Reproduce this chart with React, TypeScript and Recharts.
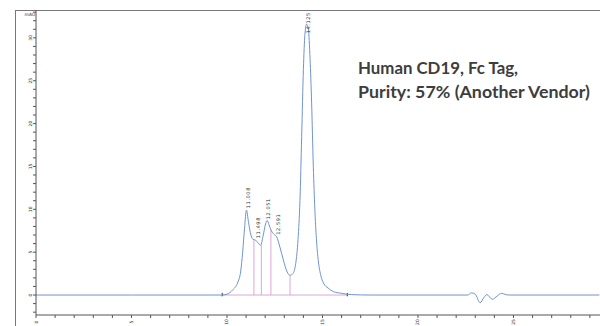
import React from "react";
import {
  ComposedChart,
  Line,
  Scatter,
  XAxis,
  YAxis,
  ReferenceLine,
} from "recharts";

// chromatogram trace (min, mAU)
const TIME = [
  0, 5, 9.7, 10.0, 10.3, 10.55, 10.72, 10.82, 10.92, 11.02, 11.12, 11.22, 11.36, 11.5, 11.62,
  11.76, 11.9, 12.02, 12.1, 12.2, 12.3, 12.45, 12.6, 12.77, 12.95, 13.15, 13.3, 13.45, 13.6,
  13.72, 13.82, 13.91, 14.0, 14.08, 14.17, 14.26, 14.35, 14.43, 14.52, 14.6, 14.68, 14.78,
  14.9, 15.05, 15.3, 15.57, 16.0, 16.5, 17.5, 22.6, 22.8, 23.0, 23.25, 23.45, 23.6, 23.9,
  24.15, 24.38, 24.6, 24.8, 29.5,
];
const ABS = [
  0, 0, 0, 0.1, 0.6, 1.4, 2.8, 5.0, 7.8, 9.9, 8.6, 7.3, 6.5, 6.4, 6.1,
  5.8, 7.0, 8.3, 8.7, 8.2, 7.6, 7.1, 6.8, 5.6, 4.1, 2.7, 2.3, 2.5, 3.7,
  6.5, 11.0, 18.5, 26.3, 30.4, 31.6, 31.0, 27.5, 22.5, 15.0, 10.0, 6.6, 4.0,
  2.4, 1.4, 0.8, 0.4, 0.2, 0.05, 0, 0, 0.25, 0.1, -0.9, -0.3, 0.05, -0.5,
  -0.1, 0.2, 0.05, 0, 0,
];

// peak apex labels
const PEAK_RT = ["11.008", "11.498", "12.051", "12.591", "14.125"];
const PEAK_H = [9.9, 6.4, 8.6, 6.8, 30.3];

// integration drop lines
const DROP_T = [11.41, 11.8, 12.3, 13.3];
const DROP_V = [6.4, 5.8, 7.6, 2.3];
const BASE_START = 9.75;
const BASE_END = 16.3;

const X_TICKS = Array.from({ length: 30 }, (_, i) => i);
const Y_TICKS = Array.from({ length: 36 }, (_, i) => i - 2);

const curve = TIME.map((t, i) => ({ t, v: ABS[i] }));
const peaks = PEAK_RT.map((name, i) => ({ t: parseFloat(name), v: PEAK_H[i], name }));

const AXIS = "#555";
const TRACE = "#6f93d2";
const PINK = "#dba6d8";

const XTick = (props: any) => {
  const { x, y, payload } = props;
  if (payload.value % 5 !== 0) return null;
  const px = x + 1.5;
  const py = y + 4;
  return (
    <text x={px} y={py} fontSize={4.5} fill="#333" textAnchor="middle" fontFamily="DejaVu Sans"
      transform={`rotate(-90, ${px}, ${py})`}>
      {payload.value}
    </text>
  );
};

const YTick = (props: any) => {
  const { x, y, payload } = props;
  if (payload.value % 5 !== 0) return null;
  return (
    <text x={x} y={y} fontSize={4.5} fill="#333" textAnchor="middle" fontFamily="DejaVu Sans"
      transform={`rotate(-90, ${x}, ${y})`}>
      {payload.value}
    </text>
  );
};

const PeakLabel = (props: any) => {
  const { cx, cy, payload } = props;
  const px = cx + 4;
  const py = cy - 2;
  return (
    <text x={px} y={py} fontSize={5} fill="#333" letterSpacing={0.6} fontFamily="DejaVu Sans"
      transform={`rotate(-90, ${px}, ${py})`}>
      {payload.name}
    </text>
  );
};

export default function App() {
  return (
    <div style={{ position: "absolute", left: 0, top: 0, width: 600, height: 326, background: "#fff", overflow: "hidden" }}>
      <div style={{ position: "absolute", left: 15, top: 10, width: 600, height: 330, borderLeft: "1px solid #777", borderTop: "1px solid #777" }} />
      <ComposedChart width={600} height={326} margin={{ top: 10, right: 0, bottom: 0, left: 0 }} style={{ overflow: "visible" }}>
        <XAxis
          type="number"
          dataKey="t"
          domain={[0, 29.53]}
          ticks={X_TICKS}
          interval={0}
          height={11}
          tickSize={3}
          tickMargin={0}
          stroke={AXIS}
          tick={<XTick />}
        />
        <YAxis
          type="number"
          dataKey="v"
          domain={[-2.33, 33.25]}
          ticks={Y_TICKS}
          interval={0}
          width={36}
          tickSize={3}
          tickMargin={1}
          stroke={AXIS}
          tick={<YTick />}
        />
        <ReferenceLine segment={[{ x: BASE_START, y: 0 }, { x: BASE_END, y: 0 }]} stroke={PINK} strokeWidth={1} />
        {DROP_T.map((t, i) => (
          <ReferenceLine key={t} segment={[{ x: t, y: 0 }, { x: t, y: DROP_V[i] }]} stroke={PINK} strokeWidth={1} />
        ))}
        <ReferenceLine segment={[{ x: BASE_START, y: -0.15 }, { x: BASE_START, y: 0.25 }]} stroke="#333" strokeWidth={1} />
        <ReferenceLine segment={[{ x: BASE_END, y: -0.15 }, { x: BASE_END, y: 0.25 }]} stroke="#333" strokeWidth={1} />
        <Line
          data={curve}
          dataKey="v"
          type="monotone"
          stroke={TRACE}
          strokeWidth={1}
          dot={false}
          isAnimationActive={false}
        />
        <Scatter data={peaks} dataKey="v" shape={<PeakLabel />} isAnimationActive={false} />
        <text x={30} y={15.5} fontSize={4.5} fill="#333" textAnchor="middle" fontFamily="DejaVu Sans">mAU</text>
        <text x={358} y={73.5} fontSize={17} fontWeight={700} fill="#3d3d3d" fontFamily="Lato"
          textLength={160} lengthAdjust="spacingAndGlyphs">
          Human CD19, Fc Tag,
        </text>
        <text x={358} y={98} fontSize={17} fontWeight={700} fill="#3d3d3d" fontFamily="Lato"
          textLength={232} lengthAdjust="spacingAndGlyphs">
          Purity: 57% (Another Vendor)
        </text>
      </ComposedChart>
    </div>
  );
}
